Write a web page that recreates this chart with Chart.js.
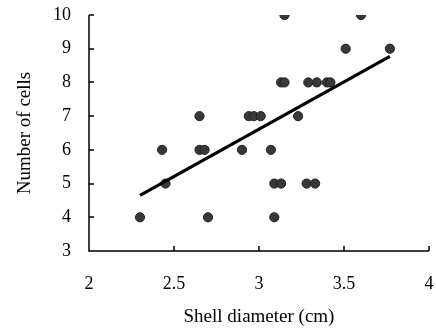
<!DOCTYPE html>
<html>
<head>
<meta charset="utf-8">
<script src="https://cdn.jsdelivr.net/npm/chart.js@4"></script>
<style>
  html, body { margin: 0; padding: 0; background: #fff; }
  #wrap { width: 436px; height: 332px; }
</style>
</head>
<body>
<div id="wrap"><canvas id="c" width="436" height="332"></canvas></div>
<script>
const shellDiameter = [2.30, 2.43, 2.45, 2.65, 2.65, 2.68, 2.70, 2.90, 2.94, 2.97, 3.01, 3.07, 3.09, 3.13, 3.09, 3.13, 3.15, 3.15, 3.23, 3.28, 3.33, 3.29, 3.34, 3.40, 3.42, 3.51, 3.60, 3.77];
const cellCount     = [4,    6,    5,    7,    6,    6,    4,    6,    7,    7,    7,    6,    5,    5,    4,    8,    8,    10,   7,    5,    5,    8,    8,    8,    8,    9,    10,   9];
const trendX = [2.30, 3.77];
const trendY = [4.65, 8.77];
const xTicks = [2, 2.5, 3, 3.5, 4];
const yTicks = [3, 4, 5, 6, 7, 8, 9, 10];

const font = 'Liberation Serif';

const innerTicks = {
  id: 'innerTicks',
  afterDraw(chart) {
    const ctx = chart.ctx, xs = chart.scales.x, ys = chart.scales.y;
    const ca = chart.chartArea;
    ctx.save();
    ctx.strokeStyle = '#000';
    ctx.lineWidth = 1.5;
    ctx.beginPath();
    ctx.moveTo(ca.left, ca.top);
    ctx.lineTo(ca.left, ca.bottom);
    ctx.lineTo(ca.right, ca.bottom);
    xTicks.forEach(v => {
      const px = Math.round(xs.getPixelForValue(v));
      ctx.moveTo(px, ca.bottom);
      ctx.lineTo(px, ca.bottom - 5);
    });
    yTicks.forEach(v => {
      const py = Math.round(ys.getPixelForValue(v));
      ctx.moveTo(ca.left, py);
      ctx.lineTo(ca.left + 5, py);
    });
    ctx.stroke();
    ctx.restore();
  }
};

function noOverhang(s) {
  s.paddingLeft = 0; s.paddingRight = 0; s.paddingTop = 0; s.paddingBottom = 0;
}

new Chart(document.getElementById('c'), {
  type: 'scatter',
  data: {
    datasets: [
      {
        label: 'Cells',
        data: shellDiameter.map((x, i) => ({ x: x, y: cellCount[i] })),
        backgroundColor: '#383838',
        borderColor: '#222',
        borderWidth: 1,
        pointRadius: 4.6,
        order: 2
      },
      {
        label: 'Trend',
        type: 'line',
        data: trendX.map((x, i) => ({ x: x, y: trendY[i] })),
        borderColor: '#000',
        borderWidth: 3.2,
        pointRadius: 0,
        fill: false,
        order: 1
      }
    ]
  },
  options: {
    responsive: false,
    animation: false,
    devicePixelRatio: 1,
    layout: { padding: { top: 15, right: 7, left: 0, bottom: 0 } },
    plugins: { legend: { display: false }, tooltip: { enabled: false } },
    scales: {
      x: {
        type: 'linear',
        min: 2, max: 4,
        afterBuildTicks: s => { s.ticks = xTicks.map(v => ({ value: v })); },
        afterFit: s => { s.height = 81; noOverhang(s); },
        grid: { display: false, drawTicks: false },
        border: { display: false },
        ticks: { color: '#000', font: { family: font, size: 18 }, padding: 22, maxRotation: 0,
                 callback: v => String(v) },
        title: { display: true, text: 'Shell diameter (cm)', color: '#000',
                 font: { family: font, size: 19 }, padding: { top: 12 } }
      },
      y: {
        type: 'linear',
        min: 3, max: 10,
        afterBuildTicks: s => { s.ticks = yTicks.map(v => ({ value: v })); },
        afterFit: s => { s.width = 89; noOverhang(s); },
        grid: { display: false, drawTicks: false },
        border: { display: false },
        ticks: { color: '#000', font: { family: font, size: 18 }, padding: 18,
                 callback: v => String(v) },
        title: { display: true, text: 'Number of cells', color: '#000',
                 font: { family: font, size: 19 }, padding: { top: 14 } }
      }
    }
  },
  plugins: [innerTicks]
});
</script>
</body>
</html>
